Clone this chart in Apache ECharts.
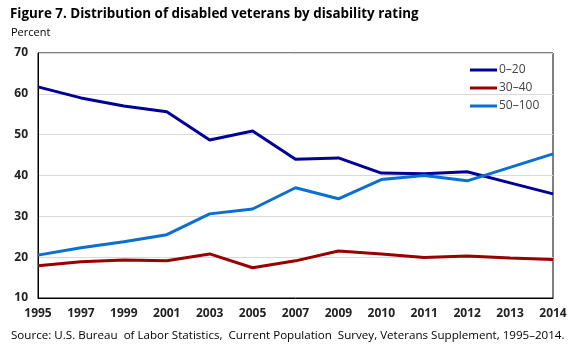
<!DOCTYPE html>
<html><head><meta charset="utf-8">
<script src="https://cdn.jsdelivr.net/npm/echarts@6/dist/echarts.min.js"></script>
<style>html,body{margin:0;padding:0;background:#fff}#c{width:575px;height:345px}</style>
</head><body><div id="c"></div>
<script>
const categories = ['1995','1997','1999','2001','2003','2005','2007','2009','2010','2011','2012','2013','2014'];
const rating0to20 = [61.7,59.0,57.0,55.6,48.7,50.9,44.0,44.3,40.6,40.4,40.9,38.2,35.5];
const rating30to40 = [17.9,18.9,19.3,19.1,20.8,17.4,19.1,21.5,20.8,19.9,20.3,19.8,19.4];
const rating50to100 = [20.5,22.3,23.8,25.5,30.6,31.8,37.0,34.3,39.0,40.0,38.7,42.0,45.3];
const seriesNames = ['0–20','30–40','50–100'];
const colors = ['#000099','#990000','#0a6fd0'];
const FONT = '"Open Sans", "Noto Sans", sans-serif';

const chart = echarts.init(document.getElementById('c'), null, {renderer:'canvas'});
const mk = (name, data, color) => ({
  name, type:'line', data, symbol:'none', smooth:false,
  lineStyle:{color, width:3}, itemStyle:{color}
});
chart.setOption({
  animation:false,
  color: colors,
  title:[
    {text:'Figure 7. Distribution of disabled veterans by disability rating', left:5, top:3,
     textStyle:{fontFamily:FONT, fontSize:13.4, fontWeight:'bold', color:'#000'}},
    {text:'Percent', left:6, top:22, textStyle:{fontFamily:FONT, fontSize:11, fontWeight:'normal', color:'#000'}},
    {text:'Source: U.S. Bureau  of Labor Statistics,  Current Population  Survey, Veterans Supplement, 1995–2014.', left:6, top:325,
     textStyle:{fontFamily:FONT, fontSize:11.6, fontWeight:'normal', color:'#000'}}
  ],
  legend:{
    orient:'vertical', left:465, top:59, itemWidth:27, itemHeight:3, itemGap:6,
    icon:'rect', textStyle:{fontFamily:FONT, fontSize:12, color:'#444', padding:[0,0,0,-3]},
    data: seriesNames
  },
  grid:{left:38, right:22, top:53, bottom:47, show:true, borderColor:'#000', borderWidth:1, containLabel:false},
  xAxis:{
    type:'category', data:categories, boundaryGap:false,
    axisLine:{lineStyle:{color:'#000', width:1}}, axisTick:{show:false},
    axisLabel:{fontFamily:FONT, fontSize:12, fontWeight:'bold', color:'#222', margin:10,
      showMinLabel:true, showMaxLabel:true, interval:0},
    splitLine:{show:false}
  },
  yAxis:{
    type:'value', min:10, max:70, interval:10,
    axisLine:{show:true, lineStyle:{color:'#000', width:1}}, axisTick:{show:false},
    axisLabel:{fontFamily:FONT, fontSize:12, fontWeight:'bold', color:'#222', margin:10},
    splitLine:{lineStyle:{color:'#d9d9d9', width:1}}
  },
  series:[
    mk(seriesNames[0], rating0to20, colors[0]),
    mk(seriesNames[1], rating30to40, colors[1]),
    mk(seriesNames[2], rating50to100, colors[2])
  ]
});
</script></body></html>
